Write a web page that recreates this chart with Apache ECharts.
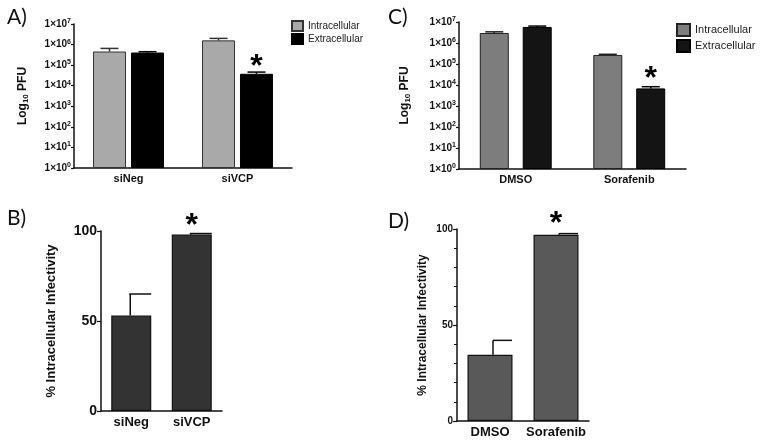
<!DOCTYPE html>
<html><head><meta charset="utf-8">
<script src="https://cdn.jsdelivr.net/npm/echarts@6/dist/echarts.min.js"></script>
<style>html,body{margin:0;padding:0;background:#fff}#c{width:760px;height:440px}</style>
</head><body><div id="c"></div>
<script>
// Panel A (log PFU, siRNA)
const categoriesA = ['siNeg', 'siVCP'];
const intraA = [4.6e5, 1.6e6];
const intraAErr = [6.5e5, 2.0e6];
const extraA = [4.1e5, 3.8e4];
const extraAErr = [4.5e5, 4.6e4];
const sigExtraA = [false, true];
// Panel C (log PFU, drug)
const categoriesC = ['DMSO', 'Sorafenib'];
const intraC = [3.0e6, 2.7e5];
const intraCErr = [3.4e6, 2.9e5];
const extraC = [5.8e6, 6.9e3];
const extraCErr = [6.4e6, 8.3e3];
const sigExtraC = [false, true];
// Panel B (% intracellular)
const categoriesB = ['siNeg', 'siVCP'];
const pctB = [53, 98];
const pctBErr = [65, 98.6];
const sigB = [false, true];
// Panel D (% intracellular)
const categoriesD = ['DMSO', 'Sorafenib'];
const pctD = [34.5, 97];
const pctDErr = [42, 97.6];
const sigD = [false, true];
// tick labels
const logMin = 1, logMax = 1e7;
const pctTicks = [0, 50, 100];
const legendNames = ['Intracellular', 'Extracellular'];

const FONT = 'Liberation Sans';
const chart = echarts.init(document.getElementById('c'), null, {renderer: 'canvas'});

function barData(vals, sig, fontSize, dist) {
  return vals.map((v, i) => sig[i] ? {value: v, label: {show: true, position: 'top', distance: dist, formatter: '*', fontSize: fontSize, fontWeight: 'bold', color: '#000', fontFamily: FONT}} : v);
}
function errData(vals, errs) { return vals.map((v, i) => [i, v, errs[i]]); }
function errSeries(xi, vals, errs, offset, capL, capR, color) {
  return {
    type: 'custom', xAxisIndex: xi, yAxisIndex: xi, z: 5,
    data: errData(vals, errs), encode: {x: 0, y: [1, 2]},
    renderItem: function (params, api) {
      const c = api.value(0);
      const p0 = api.coord([c, api.value(1)]);
      const p1 = api.coord([c, api.value(2)]);
      const x = p0[0] + offset;
      const st = {stroke: color, lineWidth: 1.5};
      return {type: 'group', children: [
        {type: 'line', shape: {x1: x, y1: p0[1], x2: x, y2: p1[1]}, style: st},
        {type: 'line', shape: {x1: x - capL, y1: p1[1], x2: x + capR, y2: p1[1]}, style: st}
      ]};
    }
  };
}
const logLabel = {
  fontFamily: FONT, fontSize: 10, fontWeight: 'bold', color: '#111', margin: 3,
  formatter: v => '1×10{s|' + Math.round(Math.log10(v)) + '}',
  rich: {s: {fontSize: 7, fontWeight: 'bold', verticalAlign: 'top', padding: [0, 0, 6, 0], fontFamily: FONT}}
};
const axLine = {lineStyle: {color: '#111', width: 1.5}};
function logY(gi, gap) {
  return {type: 'log', logBase: 10, min: logMin, max: logMax, gridIndex: gi, splitNumber: 7,
    axisLine: {show: true, ...axLine}, axisTick: {show: true, length: 3, inside: false, lineStyle: {color: '#111', width: 1.2}},
    splitLine: {show: false}, axisLabel: logLabel,
    name: 'Log{sub|10} PFU', nameLocation: 'middle', nameRotate: 90, nameGap: gap,
    nameTextStyle: {fontFamily: FONT, fontSize: 12, fontWeight: 'bold', color: '#111',
      rich: {sub: {fontSize: 8, fontWeight: 'bold', fontFamily: FONT, padding: [6, 0, 0, 0]}}}};
}
function pctY(gi, gap, fs, nameFs, minor) {
  return {type: 'value', min: 0, max: 100, interval: 50, gridIndex: gi,
    axisLine: {show: true, ...axLine}, axisTick: {show: true, length: 4, lineStyle: {color: '#111', width: 1.2}},
    minorTick: {show: minor, splitNumber: 5, length: 3, lineStyle: {color: '#111', width: 1}},
    splitLine: {show: false},
    axisLabel: {fontFamily: FONT, fontSize: fs, fontWeight: 'bold', color: '#111', margin: 4},
    name: '% Intracellular Infectivity', nameLocation: 'middle', nameRotate: 90, nameGap: gap,
    nameTextStyle: {fontFamily: FONT, fontSize: nameFs, fontWeight: 'bold', color: '#111'}};
}
function catX(gi, cats, fs) {
  return {type: 'category', data: cats, gridIndex: gi,
    axisLine: {show: true, ...axLine}, axisTick: {show: false},
    axisLabel: {interval: 0, fontFamily: FONT, fontSize: fs, fontWeight: 'bold', color: '#111', margin: 5}};
}

const option = {
  animation: false,
  backgroundColor: '#fff',
  title: [
    {text: 'A)', left: 2, top: 2, textStyle: {fontFamily: 'Lato', fontSize: 21, fontWeight: 'normal', color: '#111'}},
    {text: 'B)', left: 2, top: 203, textStyle: {fontFamily: 'Lato', fontSize: 21, fontWeight: 'normal', color: '#111'}},
    {text: 'C)', left: 383, top: 2, textStyle: {fontFamily: 'Lato', fontSize: 21, fontWeight: 'normal', color: '#111'}},
    {text: 'D)', left: 383, top: 206, textStyle: {fontFamily: 'Lato', fontSize: 21, fontWeight: 'normal', color: '#111'}}
  ],
  legend: [
    {data: legendNames, orient: 'vertical', left: 286, top: 15, itemWidth: 11, itemHeight: 10, itemGap: 1,
      icon: 'rect', textStyle: {fontFamily: FONT, fontSize: 10, color: '#222'}},
    {data: legendNames.map(n => n + ' '), orient: 'vertical', left: 671, top: 18, itemWidth: 13, itemHeight: 12, itemGap: 2,
      icon: 'rect', textStyle: {fontFamily: FONT, fontSize: 11, color: '#222'}}
  ],
  grid: [
    {left: 74, top: 24, width: 218, height: 144},
    {left: 101, top: 231, width: 121, height: 180},
    {left: 459, top: 22, width: 227, height: 147},
    {left: 457, top: 229, width: 132, height: 192}
  ],
  xAxis: [catX(0, categoriesA, 11), catX(1, categoriesB, 13), catX(2, categoriesC, 11), catX(3, categoriesD, 13)],
  yAxis: [logY(0, 44), pctY(1, 43, 14, 13, false), logY(2, 47), pctY(3, 28, 10, 12, true)],
  series: [
    {name: legendNames[0], type: 'bar', xAxisIndex: 0, yAxisIndex: 0, barWidth: 33, barGap: '15%', data: intraA,
      itemStyle: {color: '#a9a9a9', borderColor: '#333', borderWidth: 1}},
    {name: legendNames[1], type: 'bar', xAxisIndex: 0, yAxisIndex: 0, barWidth: 33, barGap: '15%', data: barData(extraA, sigExtraA, 32, -9),
      itemStyle: {color: '#000', borderColor: '#000', borderWidth: 1}},
    errSeries(0, intraA, intraAErr, -19, 9, 9, '#333'),
    errSeries(0, extraA, extraAErr, 19, 9, 9, '#000'),
    {type: 'bar', xAxisIndex: 1, yAxisIndex: 1, barWidth: 40, data: barData(pctB, sigB, 32, -8),
      itemStyle: {color: '#333', borderColor: '#111', borderWidth: 1.2}},
    errSeries(1, pctB, pctBErr, -1, 1, 21, '#111'),
    {name: legendNames[0] + ' ', type: 'bar', xAxisIndex: 2, yAxisIndex: 2, barWidth: 29, barGap: '48%', data: intraC,
      itemStyle: {color: '#7d7d7d', borderColor: '#222', borderWidth: 1}},
    {name: legendNames[1] + ' ', type: 'bar', xAxisIndex: 2, yAxisIndex: 2, barWidth: 29, barGap: '48%', data: barData(extraC, sigExtraC, 32, -7),
      itemStyle: {color: '#141414', borderColor: '#000', borderWidth: 1}},
    errSeries(2, intraC, intraCErr, -21.5, 9, 9, '#222'),
    errSeries(2, extraC, extraCErr, 21.5, 9, 9, '#000'),
    {type: 'bar', xAxisIndex: 3, yAxisIndex: 3, barWidth: 45, data: barData(pctD, sigD, 32, -5),
      itemStyle: {color: '#595959', borderColor: '#111', borderWidth: 1.2}},
    errSeries(3, pctD, pctDErr, 3, 0, 19, '#111')
  ]
};
chart.setOption(option);
</script></body></html>
